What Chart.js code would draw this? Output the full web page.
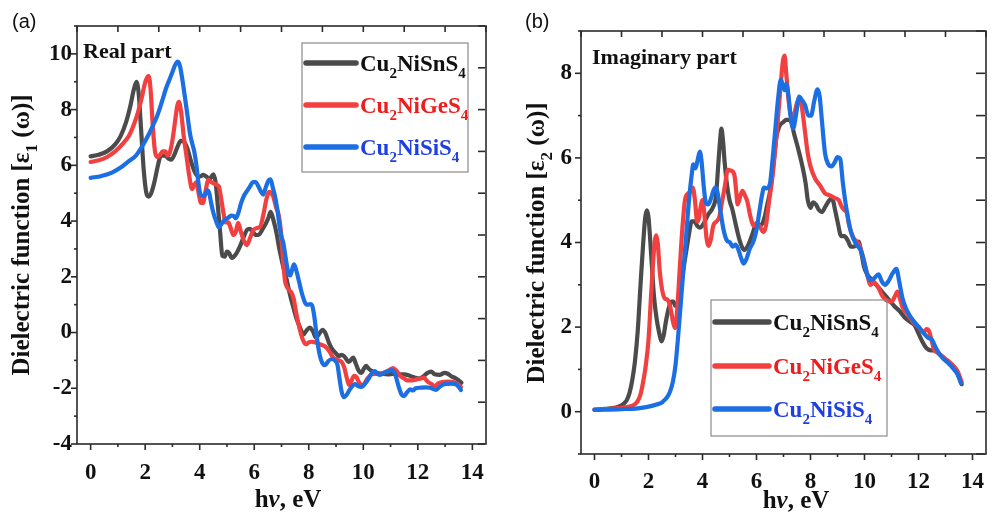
<!DOCTYPE html>
<html>
<head>
<meta charset="utf-8">
<script src="https://cdn.jsdelivr.net/npm/chart.js@4.4.1/dist/chart.umd.min.js"></script>
<style>
  html, body { margin: 0; padding: 0; background: #fff; overflow: hidden; }
  #wrap { position: relative; width: 998px; height: 515px; }
  canvas { position: absolute; top: 0; }
  #chartA { left: 0; }
  #chartB { left: 500px; }
</style>
</head>
<body>
<div id="wrap">
  <canvas id="chartA" width="500" height="515"></canvas>
  <canvas id="chartB" width="498" height="515"></canvas>
</div>
<script>
// ---- data: [photon energy eV, value] ----
const energyTicks = [0, 2, 4, 6, 8, 10, 12, 14];
const realTicks = [-4, -2, 0, 2, 4, 6, 8, 10];
const imagTicks = [0, 2, 4, 6, 8];
const materials = ['Cu2NiSnS4', 'Cu2NiGeS4', 'Cu2NiSiS4'];

const snReal = [[0,6.32],[0.3,6.38],[0.6,6.5],[0.9,6.75],[1.1,7.05],[1.3,7.55],[1.45,8.1],[1.58,8.7],[1.68,9.0],[1.76,8.6],[1.85,7.3],[1.95,5.8],[2.05,4.98],[2.13,4.88],[2.22,5.0],[2.35,5.45],[2.48,6.05],[2.58,6.35],[2.72,6.35],[2.85,6.25],[2.95,6.2],[3.08,6.4],[3.2,6.7],[3.3,6.88],[3.42,6.85],[3.55,6.6],[3.68,6.15],[3.8,5.8],[3.92,5.62],[4.02,5.6],[4.13,5.66],[4.24,5.6],[4.36,5.5],[4.5,5.68],[4.58,5.4],[4.66,4.6],[4.75,3.6],[4.83,2.75],[4.92,2.72],[5.0,2.9],[5.08,2.85],[5.18,2.68],[5.32,2.8],[5.48,3.1],[5.62,3.45],[5.75,3.7],[5.85,3.72],[5.95,3.6],[6.08,3.5],[6.18,3.52],[6.3,3.7],[6.42,3.9],[6.52,4.12],[6.6,4.33],[6.7,4.05],[6.82,3.55],[6.92,3.0],[7.02,2.55],[7.1,2.2],[7.19,1.9],[7.3,1.4],[7.43,0.92],[7.55,0.5],[7.65,0.25],[7.72,0.08],[7.8,-0.08],[7.92,0.08],[8.04,0.18],[8.15,0.05],[8.27,-0.19],[8.38,-0.05],[8.5,0.1],[8.6,0.0],[8.74,-0.37],[8.86,-0.6],[9.0,-0.75],[9.1,-0.85],[9.2,-0.8],[9.3,-0.85],[9.47,-1.05],[9.63,-0.9],[9.72,-1.1],[9.82,-1.35],[9.93,-1.45],[10.02,-1.3],[10.1,-1.2],[10.2,-1.3],[10.35,-1.4],[10.5,-1.45],[10.7,-1.48],[10.9,-1.5],[11.1,-1.48],[11.3,-1.5],[11.5,-1.5],[11.7,-1.55],[11.9,-1.62],[12.05,-1.65],[12.2,-1.58],[12.35,-1.45],[12.49,-1.4],[12.62,-1.5],[12.8,-1.52],[12.98,-1.45],[13.1,-1.48],[13.25,-1.58],[13.4,-1.65],[13.5,-1.72],[13.6,-1.8]];
const geReal = [[0,6.12],[0.3,6.18],[0.6,6.3],[0.9,6.5],[1.2,6.8],[1.4,7.05],[1.6,7.5],[1.75,7.95],[1.88,8.45],[1.98,8.9],[2.07,9.15],[2.13,9.2],[2.2,8.7],[2.28,7.4],[2.36,6.5],[2.45,6.3],[2.55,6.38],[2.64,6.5],[2.74,6.5],[2.82,6.35],[2.9,6.45],[3.0,6.9],[3.1,7.6],[3.18,8.15],[3.24,8.28],[3.32,7.9],[3.42,7.0],[3.52,6.3],[3.62,5.6],[3.72,5.15],[3.8,5.3],[3.88,5.4],[3.96,5.0],[4.05,4.65],[4.12,4.65],[4.2,5.0],[4.32,5.48],[4.42,5.4],[4.52,5.35],[4.62,5.3],[4.7,5.25],[4.78,4.85],[4.87,4.3],[4.95,3.95],[5.05,3.95],[5.12,3.8],[5.23,3.5],[5.32,3.6],[5.41,3.94],[5.5,3.65],[5.62,3.3],[5.73,3.14],[5.85,3.4],[5.97,3.68],[6.1,3.75],[6.22,3.8],[6.35,4.3],[6.45,4.8],[6.55,5.05],[6.62,5.0],[6.7,4.87],[6.8,4.5],[6.9,4.2],[6.98,3.6],[7.05,2.7],[7.13,1.85],[7.22,1.6],[7.3,1.5],[7.37,1.42],[7.45,1.2],[7.52,0.8],[7.6,0.4],[7.7,0.0],[7.8,-0.3],[7.9,-0.42],[8.0,-0.35],[8.1,-0.33],[8.2,-0.35],[8.3,-0.38],[8.4,-0.42],[8.5,-0.45],[8.6,-0.5],[8.7,-0.6],[8.8,-0.75],[8.9,-0.9],[9.0,-0.95],[9.1,-1.0],[9.2,-1.05],[9.3,-1.25],[9.4,-1.65],[9.48,-1.88],[9.56,-1.75],[9.66,-1.55],[9.75,-1.6],[9.85,-1.8],[9.95,-1.88],[10.05,-1.82],[10.15,-1.65],[10.3,-1.5],[10.45,-1.48],[10.6,-1.48],[10.8,-1.42],[10.95,-1.35],[11.09,-1.28],[11.2,-1.35],[11.35,-1.55],[11.5,-1.65],[11.62,-1.72],[11.8,-1.72],[11.95,-1.68],[12.1,-1.65],[12.22,-1.62],[12.35,-1.75],[12.5,-1.85],[12.62,-1.92],[12.75,-1.82],[12.9,-1.78],[13.1,-1.76],[13.3,-1.78],[13.45,-1.85],[13.58,-1.95]];
const siReal = [[0,5.55],[0.4,5.62],[0.8,5.75],[1.1,5.92],[1.4,6.15],[1.66,6.35],[1.9,6.7],[2.1,7.05],[2.27,7.4],[2.45,7.8],[2.62,8.3],[2.76,8.75],[2.9,9.1],[3.0,9.35],[3.1,9.6],[3.2,9.72],[3.28,9.55],[3.36,9.1],[3.45,8.5],[3.55,7.8],[3.65,7.1],[3.72,6.8],[3.8,6.5],[3.88,6.0],[3.95,5.4],[4.03,4.95],[4.12,4.9],[4.2,4.95],[4.28,5.1],[4.35,5.0],[4.42,4.65],[4.5,4.3],[4.6,4.0],[4.7,3.78],[4.8,3.9],[4.92,4.05],[5.05,4.12],[5.15,4.2],[5.25,4.18],[5.32,4.1],[5.42,4.3],[5.52,4.65],[5.62,4.9],[5.75,5.1],[5.85,5.25],[5.95,5.4],[6.05,5.4],[6.15,5.25],[6.25,5.05],[6.33,4.95],[6.42,5.2],[6.52,5.45],[6.6,5.5],[6.68,5.2],[6.76,4.9],[6.85,4.4],[6.93,3.8],[7.0,3.44],[7.07,3.2],[7.15,2.7],[7.25,2.13],[7.32,2.05],[7.4,2.3],[7.46,2.45],[7.55,2.2],[7.65,1.8],[7.75,1.4],[7.86,1.08],[7.95,1.0],[8.05,1.02],[8.12,0.98],[8.2,0.6],[8.3,-0.2],[8.4,-0.8],[8.5,-1.1],[8.6,-1.17],[8.72,-1.02],[8.85,-0.95],[8.95,-1.0],[9.05,-1.15],[9.12,-1.6],[9.2,-2.1],[9.28,-2.32],[9.38,-2.25],[9.5,-2.05],[9.6,-1.92],[9.7,-1.85],[9.8,-1.92],[9.95,-1.95],[10.05,-1.85],[10.2,-1.65],[10.32,-1.45],[10.42,-1.38],[10.52,-1.48],[10.62,-1.52],[10.75,-1.45],[10.9,-1.4],[11.03,-1.35],[11.15,-1.45],[11.3,-1.95],[11.42,-2.25],[11.5,-2.28],[11.6,-2.15],[11.72,-2.04],[11.82,-2.08],[11.92,-2.0],[12.1,-1.98],[12.3,-1.97],[12.45,-1.98],[12.58,-2.03],[12.67,-2.06],[12.8,-1.95],[12.95,-1.86],[13.1,-1.84],[13.25,-1.83],[13.4,-1.86],[13.5,-1.95],[13.58,-2.06]];

const snImag = [[0,0.05],[0.4,0.07],[0.8,0.1],[1.0,0.15],[1.1,0.2],[1.2,0.28],[1.3,0.45],[1.4,0.75],[1.5,1.2],[1.6,1.9],[1.7,2.95],[1.8,3.95],[1.88,4.6],[1.94,4.76],[2.0,4.6],[2.1,3.7],[2.2,2.75],[2.3,2.2],[2.4,1.85],[2.48,1.66],[2.56,1.8],[2.65,2.15],[2.75,2.45],[2.85,2.6],[2.92,2.6],[3.0,2.5],[3.08,2.55],[3.2,3.0],[3.3,3.4],[3.4,3.8],[3.5,4.2],[3.6,4.5],[3.7,4.5],[3.8,4.4],[3.9,4.35],[4.0,4.4],[4.2,4.65],[4.4,4.85],[4.5,5.1],[4.58,5.8],[4.65,6.4],[4.7,6.69],[4.76,6.4],[4.82,5.9],[4.9,5.4],[5.0,5.0],[5.1,4.8],[5.24,4.4],[5.4,4.0],[5.54,3.82],[5.7,3.95],[5.85,4.2],[6.0,4.45],[6.15,4.4],[6.3,4.6],[6.4,4.9],[6.5,5.2],[6.6,5.7],[6.74,6.5],[6.85,6.75],[7.0,6.85],[7.1,6.9],[7.25,6.9],[7.4,6.55],[7.55,6.2],[7.7,5.8],[7.82,5.4],[7.9,5.0],[8.0,4.82],[8.1,4.95],[8.2,4.9],[8.3,4.78],[8.42,4.72],[8.55,4.85],[8.7,5.0],[8.8,5.05],[8.9,4.8],[9.0,4.5],[9.14,4.15],[9.25,4.15],[9.38,4.05],[9.5,3.9],[9.6,3.9],[9.7,3.95],[9.78,4.02],[9.9,3.7],[9.98,3.43],[10.1,3.25],[10.3,3.1],[10.5,2.95],[10.7,2.8],[10.9,2.65],[11.1,2.5],[11.3,2.38],[11.5,2.22],[11.7,2.12],[11.85,2.05],[12.0,1.85],[12.15,1.65],[12.3,1.5],[12.45,1.45],[12.6,1.45],[12.8,1.35],[13.0,1.22],[13.2,1.1],[13.4,0.95],[13.5,0.82],[13.6,0.65]];
const geImag = [[0,0.05],[0.6,0.07],[1.0,0.09],[1.3,0.12],[1.5,0.18],[1.6,0.25],[1.7,0.4],[1.8,0.7],[1.9,1.1],[2.0,1.7],[2.1,2.8],[2.2,3.8],[2.28,4.17],[2.34,4.0],[2.42,3.3],[2.5,2.9],[2.6,2.68],[2.7,2.65],[2.8,2.5],[2.9,2.15],[2.98,1.98],[3.05,2.3],[3.15,3.3],[3.25,4.3],[3.35,5.0],[3.45,5.15],[3.55,5.2],[3.64,5.3],[3.72,5.0],[3.8,4.5],[3.86,4.55],[3.92,4.8],[4.0,5.0],[4.08,4.6],[4.15,4.1],[4.22,3.92],[4.3,4.05],[4.4,4.4],[4.52,4.5],[4.62,4.6],[4.72,4.95],[4.82,5.3],[4.94,5.72],[5.05,5.7],[5.18,5.6],[5.25,5.2],[5.3,4.9],[5.4,5.1],[5.48,5.22],[5.58,5.1],[5.66,4.97],[5.78,4.6],[5.9,4.4],[6.0,4.45],[6.1,4.4],[6.26,4.25],[6.35,4.4],[6.45,4.9],[6.6,5.6],[6.75,6.6],[6.88,7.6],[6.98,8.3],[7.04,8.42],[7.1,8.0],[7.2,7.3],[7.3,6.95],[7.4,7.05],[7.5,7.3],[7.58,7.4],[7.68,7.2],[7.8,6.6],[7.9,6.1],[8.0,5.8],[8.18,5.5],[8.35,5.35],[8.54,5.16],[8.7,5.12],[8.9,5.05],[9.05,5.0],[9.15,4.85],[9.26,4.76],[9.35,4.7],[9.4,4.5],[9.5,4.25],[9.6,4.1],[9.8,3.95],[9.95,3.65],[10.1,3.25],[10.22,3.0],[10.35,3.05],[10.5,2.95],[10.65,2.75],[10.8,2.64],[11.0,2.6],[11.12,2.72],[11.22,2.84],[11.32,2.65],[11.4,2.48],[11.6,2.3],[11.8,2.12],[12.0,2.0],[12.2,1.88],[12.3,1.95],[12.38,1.92],[12.48,1.7],[12.58,1.46],[12.7,1.4],[12.9,1.3],[13.1,1.2],[13.3,1.08],[13.45,0.95],[13.6,0.7]];
const siImag = [[0,0.04],[1.0,0.06],[1.6,0.08],[2.0,0.12],[2.3,0.17],[2.5,0.22],[2.6,0.28],[2.7,0.35],[2.8,0.48],[2.9,0.7],[3.0,1.1],[3.1,1.8],[3.2,2.6],[3.3,3.4],[3.4,4.2],[3.5,5.0],[3.6,5.6],[3.66,5.85],[3.74,5.75],[3.82,5.95],[3.9,6.15],[3.96,5.95],[4.05,5.3],[4.12,4.95],[4.22,4.9],[4.32,5.05],[4.46,5.3],[4.55,5.2],[4.65,4.8],[4.78,4.3],[4.9,4.05],[5.02,4.0],[5.12,3.9],[5.22,3.95],[5.32,3.85],[5.42,3.65],[5.52,3.5],[5.62,3.6],[5.75,3.85],[5.9,4.05],[6.0,4.3],[6.1,4.7],[6.2,5.1],[6.28,5.3],[6.38,5.28],[6.5,5.4],[6.6,6.0],[6.7,6.7],[6.8,7.4],[6.9,7.85],[6.98,7.7],[7.04,7.6],[7.1,7.75],[7.18,7.5],[7.26,7.0],[7.36,6.7],[7.46,7.0],[7.58,7.45],[7.7,7.35],[7.8,7.25],[7.92,7.0],[8.02,7.0],[8.14,7.35],[8.26,7.62],[8.34,7.45],[8.42,6.9],[8.54,6.1],[8.66,5.85],[8.78,5.8],[8.9,5.9],[9.0,6.02],[9.1,5.98],[9.2,5.4],[9.32,4.84],[9.5,4.25],[9.7,3.95],[9.86,3.82],[10.0,3.5],[10.12,3.2],[10.22,3.11],[10.35,3.15],[10.52,3.25],[10.64,3.08],[10.76,3.0],[10.9,3.1],[11.05,3.28],[11.18,3.38],[11.28,3.1],[11.4,2.7],[11.53,2.45],[11.7,2.25],[11.85,2.12],[12.0,2.01],[12.2,1.85],[12.35,1.75],[12.5,1.7],[12.65,1.5],[12.85,1.3],[13.1,1.15],[13.33,0.99],[13.45,0.88],[13.57,0.68]];

const lineColors = ['#4b4b4b', '#f23f3f', '#1c6ee3'];
const textColors = ['#111111', '#ee1c1c', '#1f3fe0'];

const SERIF = '"Liberation Serif", "Times New Roman", serif';
const SANS = '"Liberation Sans", Arial, sans-serif';
const tickFont = { family: SERIF, size: 23, weight: 'bold' };

// draw text with digits as subscripts
function drawRich(ctx, x, y, text, size, color, align) {
  const subSize = Math.round(size * 0.66);
  const runs = [];
  for (const ch of text) {
    const sub = /[0-9]/.test(ch);
    const last = runs[runs.length - 1];
    if (last && last.sub === sub) last.t += ch; else runs.push({ t: ch, sub: sub });
  }
  let total = 0;
  runs.forEach(r => {
    ctx.font = 'bold ' + (r.sub ? subSize : size) + 'px ' + SERIF;
    r.w = ctx.measureText(r.t).width;
    total += r.w;
  });
  let cx = align === 'center' ? x - total / 2 : x;
  ctx.fillStyle = color;
  ctx.textAlign = 'left';
  ctx.textBaseline = 'alphabetic';
  runs.forEach(r => {
    ctx.font = 'bold ' + (r.sub ? subSize : size) + 'px ' + SERIF;
    ctx.fillText(r.t, cx, r.sub ? y + size * 0.3 : y);
    cx += r.w;
  });
}

const decor = {
  id: 'decor',
  afterDraw(chart, args, o) {
    const { ctx, chartArea: a, scales: { x, y } } = chart;
    ctx.save();
    ctx.strokeStyle = '#2b2b2b';
    ctx.lineWidth = 1.6;
    ctx.strokeRect(a.left, a.top, a.right - a.left, a.bottom - a.top);
    const seg = (x1, y1, x2, y2) => { ctx.beginPath(); ctx.moveTo(x1, y1); ctx.lineTo(x2, y2); ctx.stroke(); };
    // bottom: majors + minors outside
    for (let v = 0; v <= 14; v++) {
      const px = x.getPixelForValue(v);
      seg(px, a.bottom, px, a.bottom + (energyTicks.includes(v) ? 6 : 3));
    }
    // left: majors + minors outside
    for (let v = Math.ceil(y.min); v <= y.max; v++) {
      const py = y.getPixelForValue(v);
      seg(a.left, py, a.left - (o.yTicks.includes(v) ? 6 : 3), py);
    }
    // top: mirrored ticks inside
    for (let v = x.min; v <= x.max + 1e-6; v += 1.5) {
      const px = x.getPixelForValue(v);
      seg(px, a.top, px, a.top + 6);
    }
    // right: mirrored ticks inside
    for (let v = y.min; v <= y.max + 1e-6; v += o.rightStep) {
      const py = y.getPixelForValue(v);
      seg(a.right - 1, py, a.right - 1 - o.rightLen, py);
    }

    // panel letter
    ctx.fillStyle = '#111';
    ctx.font = '20px ' + SANS;
    ctx.textAlign = 'left';
    ctx.textBaseline = 'alphabetic';
    ctx.fillText(o.letter, o.letterX, 28);

    // part label
    ctx.font = 'bold 22px ' + SERIF;
    ctx.fillText(o.part, o.partX, o.partY);

    // y title (rotated)
    ctx.save();
    ctx.translate(o.yTitleX, o.yTitleY);
    ctx.rotate(-Math.PI / 2);
    drawRich(ctx, 0, 8, o.yTitle, 25, '#111', 'center');
    ctx.restore();

    // x title: h ν , eV
    const parts = [['h', 'bold '], ['\u03BD', 'italic bold '], [', eV', 'bold ']];
    let w = 0;
    parts.forEach(p => { ctx.font = p[1] + '25px ' + SERIF; w += ctx.measureText(p[0]).width; });
    let tx = o.xTitleX - w / 2;
    ctx.fillStyle = '#111';
    parts.forEach(p => {
      ctx.font = p[1] + '25px ' + SERIF;
      ctx.fillText(p[0], tx, o.xTitleY);
      tx += ctx.measureText(p[0]).width;
    });

    // legend box
    const L = o.legend;
    ctx.strokeStyle = '#8a8a8a';
    ctx.lineWidth = 1.2;
    ctx.strokeRect(L.x, L.y, L.w, L.h);
    chart.data.datasets.forEach((ds, i) => {
      const ly = L.rows[i];
      ctx.strokeStyle = ds.borderColor;
      ctx.lineWidth = 5.5;
      ctx.lineCap = 'round';
      seg(L.x + 4, ly, L.x + 4 + L.sample, ly);
      drawRich(ctx, L.x + L.sample + 8, ly + 8, materials[i], 23, textColors[i], 'left');
    });
    ctx.restore();
  }
};

function series(pairs, i, order) {
  return {
    label: materials[i],
    data: pairs.map(p => ({ x: p[0], y: p[1] })),
    borderColor: lineColors[i],
    borderWidth: 4.2,
    pointRadius: 0,
    fill: false,
    cubicInterpolationMode: 'monotone',
    borderCapStyle: 'round',
    borderJoinStyle: 'round',
    order: order
  };
}

function makeChart(id, sets, cfg) {
  return new Chart(document.getElementById(id), {
    type: 'line',
    data: { datasets: sets },
    options: {
      responsive: false,
      animation: false,
      devicePixelRatio: 1,
      layout: { padding: cfg.padding },
      plugins: { legend: { display: false }, tooltip: { enabled: false }, decor: cfg.decor },
      scales: {
        x: {
          type: 'linear', min: -0.5, max: 14.5,
          grid: { display: false, drawTicks: false },
          border: { display: false },
          afterBuildTicks: s => { s.ticks = energyTicks.map(v => ({ value: v })); },
          afterFit: s => { s.height = cfg.xHeight; },
          ticks: { font: tickFont, color: '#111', padding: cfg.xPad, maxRotation: 0, autoSkip: false, callback: v => String(v) }
        },
        y: {
          type: 'linear', min: cfg.ymin, max: cfg.ymax,
          grid: { display: false, drawTicks: false },
          border: { display: false },
          afterBuildTicks: s => { s.ticks = cfg.decor.yTicks.map(v => ({ value: v })); },
          afterFit: s => { s.width = cfg.yWidth; },
          ticks: { font: tickFont, color: '#111', padding: cfg.yPad, autoSkip: false, callback: v => String(v) }
        }
      }
    },
    plugins: [decor]
  });
}

makeChart('chartA', [series(snReal, 0, 3), series(geReal, 1, 2), series(siReal, 2, 1)], {
  padding: { left: 0, top: 26, right: 14, bottom: 0 },
  xHeight: 71, yWidth: 77, xPad: 15, yPad: 5, ymin: -4, ymax: 11,
  decor: {
    yTicks: realTicks, rightStep: 1.5, rightLen: 7,
    letter: '(a)', letterX: 12, part: 'Real part', partX: 83, partY: 58,
    yTitle: 'Dielectric function [\u03B51 (\u03C9)]', yTitleX: 21, yTitleY: 235,
    xTitleX: 288, xTitleY: 507,
    legend: { x: 302, y: 43, w: 166, h: 129, sample: 50, rows: [63, 105, 147] }
  }
});

makeChart('chartB', [series(snImag, 0, 3), series(geImag, 1, 2), series(siImag, 2, 1)], {
  padding: { left: 0, top: 31, right: 0, bottom: 0 },
  xHeight: 61, yWidth: 81, xPad: 14, yPad: 9, ymin: -1, ymax: 9,
  decor: {
    yTicks: imagTicks, rightStep: 1, rightLen: 9,
    letter: '(b)', letterX: 25, part: 'Imaginary part', partX: 92, partY: 64,
    yTitle: 'Dielectric function [\u03B52 (\u03C9)]', yTitleX: 36, yTitleY: 243,
    xTitleX: 296, xTitleY: 508,
    legend: { x: 211, y: 300, w: 176, h: 136, sample: 54, rows: [322, 366, 409] }
  }
});
</script>
</body>
</html>
